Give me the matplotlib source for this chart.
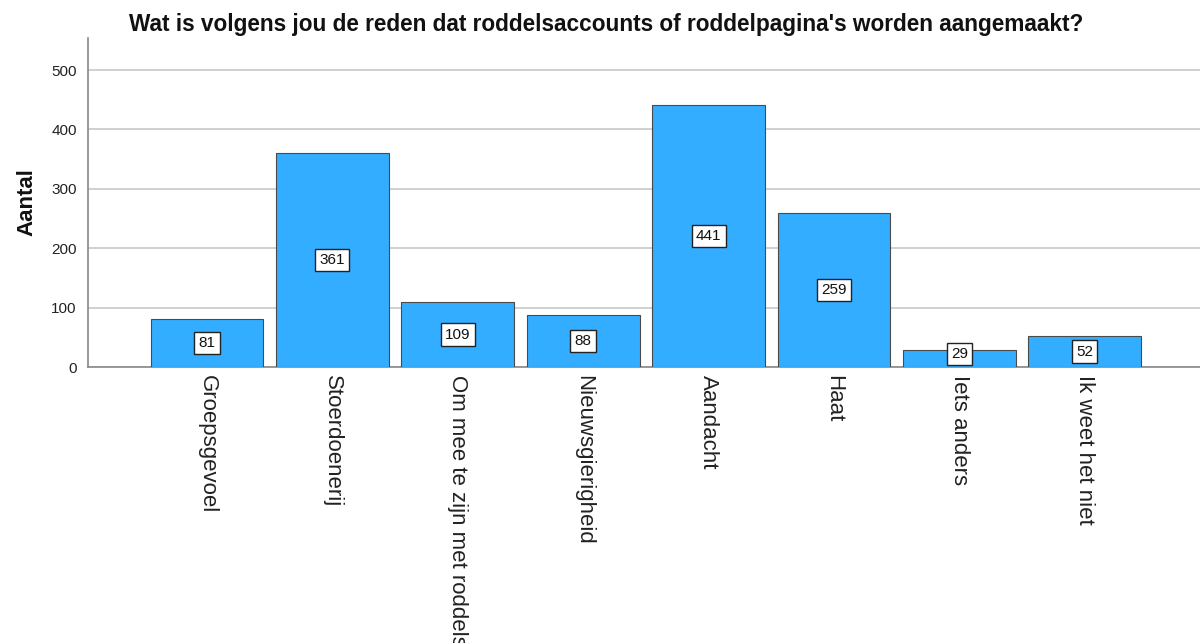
import matplotlib
matplotlib.use("Agg")
import matplotlib.pyplot as plt

categories = ["Groepsgevoel", "Stoerdoenerij", "Om mee te zijn met roddels", "Nieuwsgierigheid",
              "Aandacht", "Haat", "Iets anders", "Ik weet het niet"]
values = [81, 361, 109, 88, 441, 259, 29, 52]
yticks = [0, 100, 200, 300, 400, 500]
title = "Wat is volgens jou de reden dat roddelsaccounts of roddelpagina's worden aangemaakt?"
ylabel = "Aantal"

plt.rcParams['font.family'] = ['Liberation Sans', 'DejaVu Sans']

fig = plt.figure(figsize=(12, 6.43), dpi=100)
ax = fig.add_axes([0.0733, 0.4292, 0.9267, 0.5118])

x = list(range(len(categories)))
ax.bar(x, values, width=0.9, color="#33ADFF", edgecolor="#4a4a4a", linewidth=0.8, zorder=3)
for xi, v in zip(x, values):
    ax.text(xi, max(v / 2, 22), str(v), ha="center", va="center", fontsize=11, color="#111111",
            zorder=4, bbox=dict(boxstyle="square,pad=0.28", facecolor="white", edgecolor="#222222", linewidth=1.0))

ax.set_xlim(-0.95, 7.92)
ax.set_ylim(0, 554)
ax.set_yticks(yticks)
ax.set_yticklabels([str(t) for t in yticks], fontsize=11, color="#222222")
ax.yaxis.grid(True, color="#c8c8c8", linewidth=1.2, zorder=0)
ax.set_axisbelow(True)
ax.tick_params(axis="both", length=0, pad=8)
ax.set_xticks(x)
ax.set_xticklabels(categories, rotation=-90, fontsize=16, color="#222222", va="top", ha="center")
ax.tick_params(axis="x", pad=6)
for s in ["top", "right"]:
    ax.spines[s].set_visible(False)
ax.spines["left"].set_color("#888888")
ax.spines["bottom"].set_color("#888888")
ax.spines["left"].set_linewidth(1.2)
ax.spines["bottom"].set_linewidth(1.2)

ax.set_ylabel(ylabel, fontsize=16, fontweight="bold", color="#111111", labelpad=10)
fig.text(0.505, 0.962, title, ha="center", va="center", fontsize=16.3, fontweight="bold", color="#111111")

fig.savefig("out.png", dpi=100)
